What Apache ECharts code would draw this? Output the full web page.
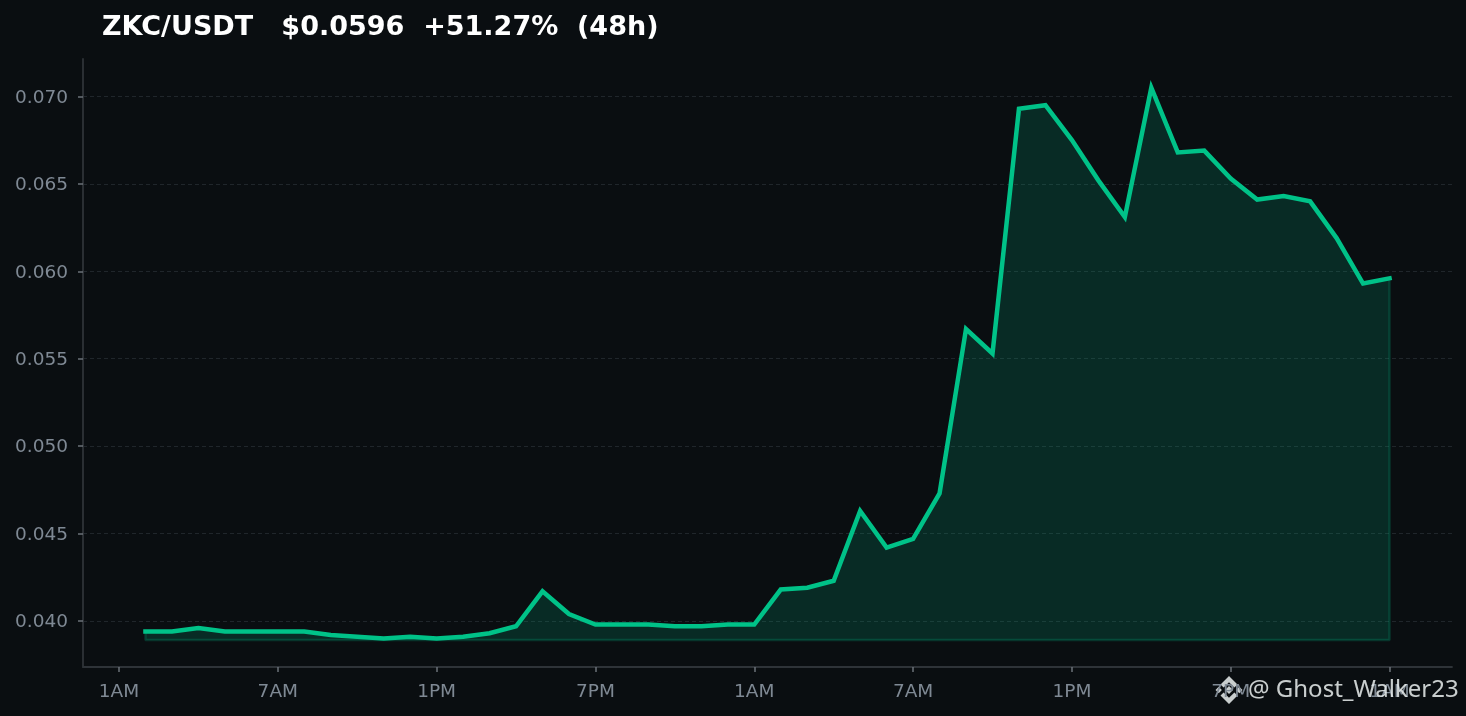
<!DOCTYPE html>
<html>
<head>
<meta charset="utf-8">
<style>html,body{margin:0;padding:0;background:#0a0e11;}#c{width:1466px;height:716px;}</style>
<script src="https://cdn.jsdelivr.net/npm/echarts@6/dist/echarts.min.js"></script>
</head>
<body>
<div id="c"></div>
<script>
const titleText = 'ZKC/USDT   $0.0596  +51.27%  (48h)';
const watermark = '@ Ghost_Walker23';
// hours since the first 1AM tick
const hours = [1,2,3,4,5,6,7,8,9,10,11,12,13,14,15,16,17,18,19,20,21,22,23,24,25,26,27,28,29,30,31,32,33,34,35,36,37,38,39,40,41,42,43,44,45,46,47,48];
const prices = [
  .0394,.0394,.0396,.0394,.0394,.0394,.0394,.0392,.0391,.0390,.0391,.0390,
  .0391,.0393,.0397,.0417,.0404,.0398,.0398,.0398,.0397,.0397,.0398,.0398,
  .0418,.0419,.0423,.0463,.0442,.0447,.0473,.0567,.0553,.0693,.0695,.0675,
  .0652,.0631,.0705,.0668,.0669,.0653,.0641,.0643,.0640,.0619,.0593,.0596
];
const baseline = 0.03891;
const xTicks = [0,6,12,18,24,30,36,42,48];
const xLabels = ['1AM','7AM','1PM','7PM','1AM','7AM','1PM','7PM','1AM'];
const yTicks = [0.040,0.045,0.050,0.055,0.060,0.065,0.070];
const xRange = [-1.36, 50.36];
const yRange = [0.03737, 0.07214];

const chart = echarts.init(document.getElementById('c'), null, {renderer:'canvas'});
const LINE = '#00c288', AXIS = '#2e3338', TXT = '#7f8994', WM = 'rgba(235,240,240,0.85)';
const font = '"DejaVu Sans"';
const axisBase = {
  axisLine:{show:true,onZero:false,lineStyle:{color:AXIS,width:1.8}},
  axisTick:{show:true,length:5,lineStyle:{color:'#6b7178',width:1.5}},
  axisLabel:{color:TXT,fontFamily:font,fontSize:18.5}
};
const polyStyle = {fill:WM};
const R = 14;
chart.setOption({
  animation:false,
  backgroundColor:'#0a0e11',
  title:{text:titleText,left:102,top:14,padding:0,textStyle:{color:'#ffffff',fontFamily:font,fontWeight:'bold',fontSize:27}},
  grid:{left:83,right:14,top:59,bottom:49,containLabel:false},
  xAxis:Object.assign({},axisBase,{
    type:'value',min:xRange[0],max:xRange[1],
    splitLine:{show:false},
    axisTick:Object.assign({},axisBase.axisTick,{customValues:xTicks}),
    axisLabel:Object.assign({},axisBase.axisLabel,{
      customValues:xTicks,margin:16,
      formatter:v=>xLabels[xTicks.indexOf(v)]
    })
  }),
  yAxis:Object.assign({},axisBase,{
    type:'value',min:yRange[0],max:yRange[1],
    splitLine:{show:true,lineStyle:{color:'#20262b',width:1,type:[4,3]}},
    axisTick:Object.assign({},axisBase.axisTick,{customValues:yTicks}),
    axisLabel:Object.assign({},axisBase.axisLabel,{
      customValues:yTicks,margin:15,verticalAlign:'top',lineHeight:3,
      formatter:v=>v.toFixed(3)
    })
  }),
  series:[
    {type:'line',name:'edge',silent:true,symbol:'none',z:2,
     data:[[hours[0],prices[0]],[hours[0],baseline],[hours[hours.length-1],baseline],[hours[hours.length-1],prices[prices.length-1]]],
     lineStyle:{color:'rgba(0,192,135,0.22)',width:2.4}},
    {type:'line',name:'ZKC/USDT',symbol:'none',z:3,
     data:hours.map((h,i)=>[h,prices[i]]),
     lineStyle:{color:LINE,width:4.5,cap:'square',join:'miter'},
     areaStyle:{color:'rgba(0,192,135,0.24)',origin:baseline}}
  ],
  graphic:[
    {type:'group',x:1229,y:690,z:100,children:[
      {type:'polygon',shape:{points:[[0,-R],[8.5,-5.5],[5.4,-2.4],[0,-7.8],[-5.4,-2.4],[-8.5,-5.5]]},style:polyStyle},
      {type:'polygon',shape:{points:[[0,R],[8.5,5.5],[5.4,2.4],[0,7.8],[-5.4,2.4],[-8.5,5.5]]},style:polyStyle},
      {type:'polygon',shape:{points:[[0,-4],[4,0],[0,4],[-4,0]]},style:polyStyle},
      {type:'polygon',shape:{points:[[-10.3,-3.2],[-7.1,0],[-10.3,3.2],[-13.5,0]]},style:polyStyle},
      {type:'polygon',shape:{points:[[10.3,-3.2],[13.5,0],[10.3,3.2],[7.1,0]]},style:polyStyle}
    ]},
    {type:'text',left:1248,top:678,z:100,style:{text:watermark,fill:WM,font:'24px "Noto Sans"'}}
  ]
});
</script>
</body>
</html>
